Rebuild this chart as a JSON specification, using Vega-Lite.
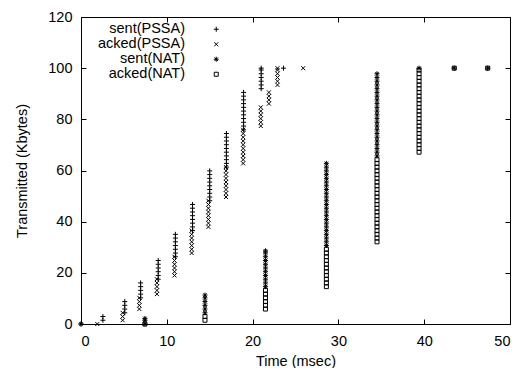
{
  "$schema": "https://vega.github.io/schema/vega-lite/v6.json",
  "width": 429,
  "height": 307,
  "autosize": {"type": "none"},
  "padding": {"left": 81, "top": 17, "right": 13, "bottom": 44},
  "background": "white",
  "config": {
    "view": {"stroke": "black", "strokeWidth": 1},
    "font": "Liberation Sans",
    "axis": {
      "grid": false, "domain": false, "tickColor": "black", "tickSize": -5, "tickWidth": 1,
      "labelFont": "Liberation Sans", "labelFontSize": 14.5, "labelColor": "black",
      "titleFont": "Liberation Sans", "titleFontSize": 14.5, "titleFontWeight": "normal", "titleColor": "black"
    }
  },
  "data": {"values": [
    {"s":"sent(NAT)","t":0,"y":0},
    {"s":"sent(NAT)","t":7.45,"y":0},{"s":"sent(NAT)","t":7.45,"y":1.46},{"s":"sent(NAT)","t":7.45,"y":2.19},
    {"s":"sent(NAT)","t":14.45,"y":4.38},{"s":"sent(NAT)","t":14.45,"y":5.84},{"s":"sent(NAT)","t":14.45,"y":7.3},{"s":"sent(NAT)","t":14.45,"y":8.76},{"s":"sent(NAT)","t":14.45,"y":10.22},{"s":"sent(NAT)","t":14.45,"y":11.3},
    {"s":"sent(NAT)","t":21.5,"y":14.6},{"s":"sent(NAT)","t":21.5,"y":16.06},{"s":"sent(NAT)","t":21.5,"y":17.52},{"s":"sent(NAT)","t":21.5,"y":18.98},{"s":"sent(NAT)","t":21.5,"y":20.44},{"s":"sent(NAT)","t":21.5,"y":21.9},{"s":"sent(NAT)","t":21.5,"y":23.36},{"s":"sent(NAT)","t":21.5,"y":24.82},{"s":"sent(NAT)","t":21.5,"y":26.28},{"s":"sent(NAT)","t":21.5,"y":27.74},{"s":"sent(NAT)","t":21.5,"y":28.6},
    {"s":"sent(NAT)","t":28.6,"y":30.66},{"s":"sent(NAT)","t":28.6,"y":32.12},{"s":"sent(NAT)","t":28.6,"y":33.58},{"s":"sent(NAT)","t":28.6,"y":35.04},{"s":"sent(NAT)","t":28.6,"y":36.5},{"s":"sent(NAT)","t":28.6,"y":37.96},{"s":"sent(NAT)","t":28.6,"y":39.42},{"s":"sent(NAT)","t":28.6,"y":40.88},{"s":"sent(NAT)","t":28.6,"y":42.34},{"s":"sent(NAT)","t":28.6,"y":43.8},{"s":"sent(NAT)","t":28.6,"y":45.26},{"s":"sent(NAT)","t":28.6,"y":46.72},{"s":"sent(NAT)","t":28.6,"y":48.18},{"s":"sent(NAT)","t":28.6,"y":49.64},{"s":"sent(NAT)","t":28.6,"y":51.1},{"s":"sent(NAT)","t":28.6,"y":52.56},{"s":"sent(NAT)","t":28.6,"y":54.02},{"s":"sent(NAT)","t":28.6,"y":55.48},{"s":"sent(NAT)","t":28.6,"y":56.94},{"s":"sent(NAT)","t":28.6,"y":58.4},{"s":"sent(NAT)","t":28.6,"y":59.86},{"s":"sent(NAT)","t":28.6,"y":61.32},{"s":"sent(NAT)","t":28.6,"y":62.78},
    {"s":"sent(NAT)","t":34.5,"y":65.7},{"s":"sent(NAT)","t":34.5,"y":67.16},{"s":"sent(NAT)","t":34.5,"y":68.62},{"s":"sent(NAT)","t":34.5,"y":70.08},{"s":"sent(NAT)","t":34.5,"y":71.54},{"s":"sent(NAT)","t":34.5,"y":73},{"s":"sent(NAT)","t":34.5,"y":74.46},{"s":"sent(NAT)","t":34.5,"y":75.92},{"s":"sent(NAT)","t":34.5,"y":77.38},{"s":"sent(NAT)","t":34.5,"y":78.84},{"s":"sent(NAT)","t":34.5,"y":80.3},{"s":"sent(NAT)","t":34.5,"y":81.76},{"s":"sent(NAT)","t":34.5,"y":83.22},{"s":"sent(NAT)","t":34.5,"y":84.68},{"s":"sent(NAT)","t":34.5,"y":86.14},{"s":"sent(NAT)","t":34.5,"y":87.6},{"s":"sent(NAT)","t":34.5,"y":89.06},{"s":"sent(NAT)","t":34.5,"y":90.52},{"s":"sent(NAT)","t":34.5,"y":91.98},{"s":"sent(NAT)","t":34.5,"y":93.44},{"s":"sent(NAT)","t":34.5,"y":94.9},{"s":"sent(NAT)","t":34.5,"y":96.36},{"s":"sent(NAT)","t":34.5,"y":97.82},
    {"s":"sent(NAT)","t":39.4,"y":100},{"s":"sent(NAT)","t":43.5,"y":100},{"s":"sent(NAT)","t":47.4,"y":100},
    {"s":"acked(NAT)","t":7.45,"y":0},
    {"s":"acked(NAT)","t":14.45,"y":1.46},{"s":"acked(NAT)","t":14.45,"y":2.92},
    {"s":"acked(NAT)","t":21.5,"y":5.84},{"s":"acked(NAT)","t":21.5,"y":7.3},{"s":"acked(NAT)","t":21.5,"y":8.76},{"s":"acked(NAT)","t":21.5,"y":10.22},{"s":"acked(NAT)","t":21.5,"y":11.68},{"s":"acked(NAT)","t":21.5,"y":13.14},
    {"s":"acked(NAT)","t":28.6,"y":14.6},{"s":"acked(NAT)","t":28.6,"y":16.06},{"s":"acked(NAT)","t":28.6,"y":17.52},{"s":"acked(NAT)","t":28.6,"y":18.98},{"s":"acked(NAT)","t":28.6,"y":20.44},{"s":"acked(NAT)","t":28.6,"y":21.9},{"s":"acked(NAT)","t":28.6,"y":23.36},{"s":"acked(NAT)","t":28.6,"y":24.82},{"s":"acked(NAT)","t":28.6,"y":26.28},{"s":"acked(NAT)","t":28.6,"y":27.74},{"s":"acked(NAT)","t":28.6,"y":29.2},
    {"s":"acked(NAT)","t":34.5,"y":32.12},{"s":"acked(NAT)","t":34.5,"y":33.58},{"s":"acked(NAT)","t":34.5,"y":35.04},{"s":"acked(NAT)","t":34.5,"y":36.5},{"s":"acked(NAT)","t":34.5,"y":37.96},{"s":"acked(NAT)","t":34.5,"y":39.42},{"s":"acked(NAT)","t":34.5,"y":40.88},{"s":"acked(NAT)","t":34.5,"y":42.34},{"s":"acked(NAT)","t":34.5,"y":43.8},{"s":"acked(NAT)","t":34.5,"y":45.26},{"s":"acked(NAT)","t":34.5,"y":46.72},{"s":"acked(NAT)","t":34.5,"y":48.18},{"s":"acked(NAT)","t":34.5,"y":49.64},{"s":"acked(NAT)","t":34.5,"y":51.1},{"s":"acked(NAT)","t":34.5,"y":52.56},{"s":"acked(NAT)","t":34.5,"y":54.02},{"s":"acked(NAT)","t":34.5,"y":55.48},{"s":"acked(NAT)","t":34.5,"y":56.94},{"s":"acked(NAT)","t":34.5,"y":58.4},{"s":"acked(NAT)","t":34.5,"y":59.86},{"s":"acked(NAT)","t":34.5,"y":61.32},{"s":"acked(NAT)","t":34.5,"y":62.78},{"s":"acked(NAT)","t":34.5,"y":64.24},
    {"s":"acked(NAT)","t":39.4,"y":67.16},{"s":"acked(NAT)","t":39.4,"y":68.62},{"s":"acked(NAT)","t":39.4,"y":70.08},{"s":"acked(NAT)","t":39.4,"y":71.54},{"s":"acked(NAT)","t":39.4,"y":73},{"s":"acked(NAT)","t":39.4,"y":74.46},{"s":"acked(NAT)","t":39.4,"y":75.92},{"s":"acked(NAT)","t":39.4,"y":77.38},{"s":"acked(NAT)","t":39.4,"y":78.84},{"s":"acked(NAT)","t":39.4,"y":80.3},{"s":"acked(NAT)","t":39.4,"y":81.76},{"s":"acked(NAT)","t":39.4,"y":83.22},{"s":"acked(NAT)","t":39.4,"y":84.68},{"s":"acked(NAT)","t":39.4,"y":86.14},{"s":"acked(NAT)","t":39.4,"y":87.6},{"s":"acked(NAT)","t":39.4,"y":89.06},{"s":"acked(NAT)","t":39.4,"y":90.52},{"s":"acked(NAT)","t":39.4,"y":91.98},{"s":"acked(NAT)","t":39.4,"y":93.44},{"s":"acked(NAT)","t":39.4,"y":94.9},{"s":"acked(NAT)","t":39.4,"y":96.36},{"s":"acked(NAT)","t":39.4,"y":97.82},{"s":"acked(NAT)","t":39.4,"y":99.28},
    {"s":"acked(NAT)","t":43.5,"y":100},{"s":"acked(NAT)","t":47.4,"y":100},
    {"s":"sent(PSSA)","t":0,"y":0},
    {"s":"sent(PSSA)","t":2.55,"y":1.46},{"s":"sent(PSSA)","t":2.55,"y":2.92},
    {"s":"sent(PSSA)","t":5.1,"y":4.38},{"s":"sent(PSSA)","t":5.1,"y":5.84},{"s":"sent(PSSA)","t":5.1,"y":7.3},{"s":"sent(PSSA)","t":5.1,"y":8.76},
    {"s":"sent(PSSA)","t":6.95,"y":10.22},{"s":"sent(PSSA)","t":6.95,"y":11.68},{"s":"sent(PSSA)","t":6.95,"y":13.14},{"s":"sent(PSSA)","t":6.95,"y":14.6},{"s":"sent(PSSA)","t":6.95,"y":16.06},
    {"s":"sent(PSSA)","t":9.0,"y":17.52},{"s":"sent(PSSA)","t":9.0,"y":18.98},{"s":"sent(PSSA)","t":9.0,"y":20.44},{"s":"sent(PSSA)","t":9.0,"y":21.9},{"s":"sent(PSSA)","t":9.0,"y":23.36},{"s":"sent(PSSA)","t":9.0,"y":24.82},
    {"s":"sent(PSSA)","t":11.0,"y":26.28},{"s":"sent(PSSA)","t":11.0,"y":27.74},{"s":"sent(PSSA)","t":11.0,"y":29.2},{"s":"sent(PSSA)","t":11.0,"y":30.66},{"s":"sent(PSSA)","t":11.0,"y":32.12},{"s":"sent(PSSA)","t":11.0,"y":33.58},{"s":"sent(PSSA)","t":11.0,"y":35.04},
    {"s":"sent(PSSA)","t":13.0,"y":36.5},{"s":"sent(PSSA)","t":13.0,"y":37.96},{"s":"sent(PSSA)","t":13.0,"y":39.42},{"s":"sent(PSSA)","t":13.0,"y":40.88},{"s":"sent(PSSA)","t":13.0,"y":42.34},{"s":"sent(PSSA)","t":13.0,"y":43.8},{"s":"sent(PSSA)","t":13.0,"y":45.26},{"s":"sent(PSSA)","t":13.0,"y":46.72},
    {"s":"sent(PSSA)","t":15.0,"y":48.18},{"s":"sent(PSSA)","t":15.0,"y":49.64},{"s":"sent(PSSA)","t":15.0,"y":51.1},{"s":"sent(PSSA)","t":15.0,"y":52.56},{"s":"sent(PSSA)","t":15.0,"y":54.02},{"s":"sent(PSSA)","t":15.0,"y":55.48},{"s":"sent(PSSA)","t":15.0,"y":56.94},{"s":"sent(PSSA)","t":15.0,"y":58.4},{"s":"sent(PSSA)","t":15.0,"y":59.86},
    {"s":"sent(PSSA)","t":16.95,"y":61.32},{"s":"sent(PSSA)","t":16.95,"y":62.78},{"s":"sent(PSSA)","t":16.95,"y":64.24},{"s":"sent(PSSA)","t":16.95,"y":65.7},{"s":"sent(PSSA)","t":16.95,"y":67.16},{"s":"sent(PSSA)","t":16.95,"y":68.62},{"s":"sent(PSSA)","t":16.95,"y":70.08},{"s":"sent(PSSA)","t":16.95,"y":71.54},{"s":"sent(PSSA)","t":16.95,"y":73},{"s":"sent(PSSA)","t":16.95,"y":74.46},
    {"s":"sent(PSSA)","t":18.95,"y":75.92},{"s":"sent(PSSA)","t":18.95,"y":77.38},{"s":"sent(PSSA)","t":18.95,"y":78.84},{"s":"sent(PSSA)","t":18.95,"y":80.3},{"s":"sent(PSSA)","t":18.95,"y":81.76},{"s":"sent(PSSA)","t":18.95,"y":83.22},{"s":"sent(PSSA)","t":18.95,"y":84.68},{"s":"sent(PSSA)","t":18.95,"y":86.14},{"s":"sent(PSSA)","t":18.95,"y":87.6},{"s":"sent(PSSA)","t":18.95,"y":89.06},{"s":"sent(PSSA)","t":18.95,"y":90.52},
    {"s":"sent(PSSA)","t":21.0,"y":91.98},{"s":"sent(PSSA)","t":21.0,"y":93.44},{"s":"sent(PSSA)","t":21.0,"y":94.9},{"s":"sent(PSSA)","t":21.0,"y":96.36},{"s":"sent(PSSA)","t":21.0,"y":97.82},{"s":"sent(PSSA)","t":21.0,"y":99.28},{"s":"sent(PSSA)","t":21.0,"y":100},
    {"s":"sent(PSSA)","t":23.6,"y":100},
    {"s":"acked(PSSA)","t":1.9,"y":0},
    {"s":"acked(PSSA)","t":4.85,"y":1.46},{"s":"acked(PSSA)","t":4.85,"y":2.92},{"s":"acked(PSSA)","t":4.85,"y":4.38},
    {"s":"acked(PSSA)","t":6.8,"y":5.84},{"s":"acked(PSSA)","t":6.8,"y":7.3},{"s":"acked(PSSA)","t":6.8,"y":8.76},{"s":"acked(PSSA)","t":6.8,"y":10.22},
    {"s":"acked(PSSA)","t":8.85,"y":11.68},{"s":"acked(PSSA)","t":8.85,"y":13.14},{"s":"acked(PSSA)","t":8.85,"y":14.6},{"s":"acked(PSSA)","t":8.85,"y":16.06},{"s":"acked(PSSA)","t":8.85,"y":17.52},
    {"s":"acked(PSSA)","t":10.9,"y":18.98},{"s":"acked(PSSA)","t":10.9,"y":20.44},{"s":"acked(PSSA)","t":10.9,"y":21.9},{"s":"acked(PSSA)","t":10.9,"y":23.36},{"s":"acked(PSSA)","t":10.9,"y":24.82},{"s":"acked(PSSA)","t":10.9,"y":26.28},
    {"s":"acked(PSSA)","t":12.9,"y":27.74},{"s":"acked(PSSA)","t":12.9,"y":29.2},{"s":"acked(PSSA)","t":12.9,"y":30.66},{"s":"acked(PSSA)","t":12.9,"y":32.12},{"s":"acked(PSSA)","t":12.9,"y":33.58},{"s":"acked(PSSA)","t":12.9,"y":35.04},{"s":"acked(PSSA)","t":12.9,"y":36.5},
    {"s":"acked(PSSA)","t":14.85,"y":37.96},{"s":"acked(PSSA)","t":14.85,"y":39.42},{"s":"acked(PSSA)","t":14.85,"y":40.88},{"s":"acked(PSSA)","t":14.85,"y":42.34},{"s":"acked(PSSA)","t":14.85,"y":43.8},{"s":"acked(PSSA)","t":14.85,"y":45.26},{"s":"acked(PSSA)","t":14.85,"y":46.72},{"s":"acked(PSSA)","t":14.85,"y":48.18},
    {"s":"acked(PSSA)","t":16.9,"y":49.64},{"s":"acked(PSSA)","t":16.9,"y":51.1},{"s":"acked(PSSA)","t":16.9,"y":52.56},{"s":"acked(PSSA)","t":16.9,"y":54.02},{"s":"acked(PSSA)","t":16.9,"y":55.48},{"s":"acked(PSSA)","t":16.9,"y":56.94},{"s":"acked(PSSA)","t":16.9,"y":58.4},{"s":"acked(PSSA)","t":16.9,"y":59.86},{"s":"acked(PSSA)","t":16.9,"y":61.32},
    {"s":"acked(PSSA)","t":18.9,"y":62.78},{"s":"acked(PSSA)","t":18.9,"y":64.24},{"s":"acked(PSSA)","t":18.9,"y":65.7},{"s":"acked(PSSA)","t":18.9,"y":67.16},{"s":"acked(PSSA)","t":18.9,"y":68.62},{"s":"acked(PSSA)","t":18.9,"y":70.08},{"s":"acked(PSSA)","t":18.9,"y":71.54},{"s":"acked(PSSA)","t":18.9,"y":73},{"s":"acked(PSSA)","t":18.9,"y":74.46},{"s":"acked(PSSA)","t":18.9,"y":75.92},
    {"s":"acked(PSSA)","t":20.95,"y":77.38},{"s":"acked(PSSA)","t":20.95,"y":78.84},{"s":"acked(PSSA)","t":20.95,"y":80.3},{"s":"acked(PSSA)","t":20.95,"y":81.76},{"s":"acked(PSSA)","t":20.95,"y":83.22},{"s":"acked(PSSA)","t":20.95,"y":84.68},
    {"s":"acked(PSSA)","t":21.9,"y":86.14},{"s":"acked(PSSA)","t":21.9,"y":87.6},{"s":"acked(PSSA)","t":21.9,"y":89.06},{"s":"acked(PSSA)","t":21.9,"y":90.52},
    {"s":"acked(PSSA)","t":22.9,"y":93.44},{"s":"acked(PSSA)","t":22.9,"y":94.9},{"s":"acked(PSSA)","t":22.9,"y":96.36},{"s":"acked(PSSA)","t":22.9,"y":97.82},{"s":"acked(PSSA)","t":22.9,"y":99.28},{"s":"acked(PSSA)","t":22.9,"y":100},
    {"s":"acked(PSSA)","t":25.9,"y":100}
  ]},
  "layer": [
    {
      "mark": {"type": "point", "filled": false, "strokeWidth": 1, "size": 25, "opacity": 1, "color": "black"},
      "encoding": {
        "x": {"field": "t", "type": "quantitative", "scale": {"domain": [0, 50], "nice": false, "zero": false},
              "axis": {"title": "Time (msec)", "values": [0, 10, 20, 30, 40, 50], "labelPadding": 15, "titlePadding": 7, "format": "d"}},
        "y": {"field": "y", "type": "quantitative", "scale": {"domain": [0, 120], "nice": false},
              "axis": {"title": "Transmitted (Kbytes)", "values": [0, 20, 40, 60, 80, 100, 120], "labelPadding": 14, "titlePadding": 18, "format": "d"}},
        "shape": {"field": "s", "type": "nominal",
          "scale": {"domain": ["sent(PSSA)", "acked(PSSA)", "sent(NAT)", "acked(NAT)"],
                    "range": ["M-1,0L1,0M0,-1L0,1", "M-0.8,-0.8L0.8,0.8M-0.8,0.8L0.8,-0.8", "M-1,0L1,0M0,-1L0,1M-0.7,-0.7L0.7,0.7M-0.7,0.7L0.7,-0.7", "M-0.8,-0.8L0.8,-0.8L0.8,0.8L-0.8,0.8Z"]},
          "legend": {"title": null, "orient": "none", "legendX": 121, "legendY": 5, "padding": 0,
                     "labelAlign": "right", "labelOffset": -38.5, "symbolOffset": 7, "rowPadding": 0,
                     "labelFont": "Liberation Sans", "labelFontSize": 14.5, "labelColor": "black",
                     "symbolStrokeColor": "black", "symbolFillColor": "transparent", "symbolSize": 25, "symbolStrokeWidth": 1}}
      }
    },
    {
      "mark": {"type": "point", "opacity": 0},
      "encoding": {
        "x": {"field": "t", "type": "quantitative", "axis": {"orient": "top", "labels": false, "title": null, "values": [0, 10, 20, 30, 40, 50]}},
        "y": {"field": "y", "type": "quantitative", "axis": {"orient": "right", "labels": false, "title": null, "values": [0, 20, 40, 60, 80, 100, 120]}}
      }
    }
  ],
  "resolve": {"axis": {"x": "independent", "y": "independent"}}
}
